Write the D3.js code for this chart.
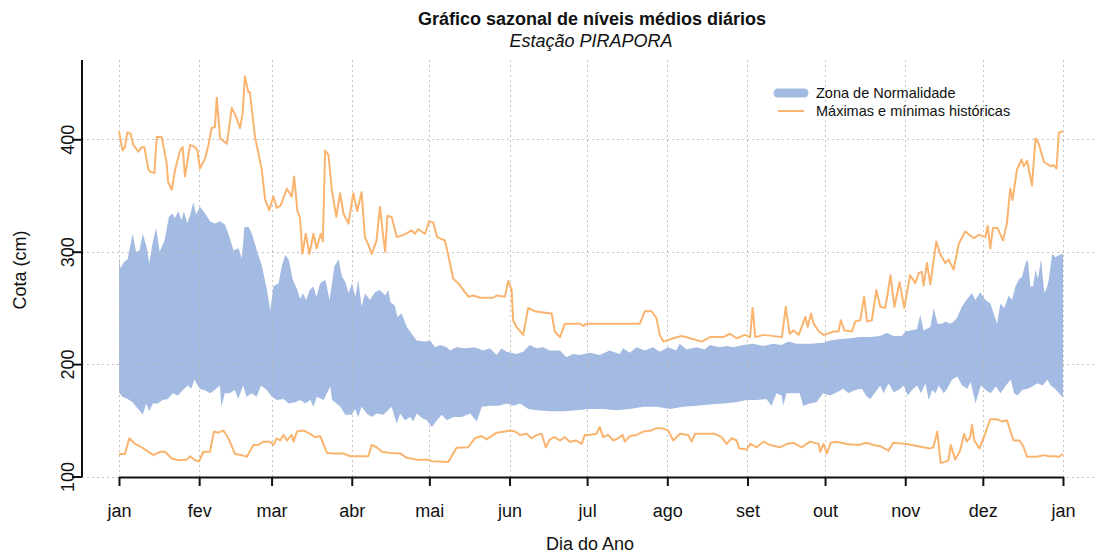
<!DOCTYPE html>
<html>
<head>
<meta charset="utf-8">
<script src="https://cdn.jsdelivr.net/npm/d3@7"></script>
<style>
  html, body { margin: 0; padding: 0; background: #fff; }
  svg { display: block; font-family: "Liberation Sans", Arial, sans-serif; }
</style>
</head>
<body>
<svg id="chart" width="1097" height="556"></svg>
<script>
// Month ticks (day of year) and labels
const monthDays = [1, 32, 60, 91, 121, 152, 182, 213, 244, 274, 305, 335, 366];
const monthLabels = ["jan", "fev", "mar", "abr", "mai", "jun", "jul", "ago", "set", "out", "nov", "dez", "jan"];
const yTicks = [100, 200, 300, 400];

// Historical maximum level [day, cm]
const maxHist = [
  [1,407],[2.4,390],[3.3,393],[4.2,406],[5.5,405],[6.5,395],[8.5,389],[9.8,393],[10.8,393],[12.3,374],[13,371],[14.7,370],
  [15.6,402],[17.5,402],[19.4,379],[20,362],[21.4,355],[22.7,373],[24.6,390],[25.6,393],[26.5,367],[28.5,395],[30.4,393],
  [31.3,390],[32.3,374],[34.3,383],[35.6,395],[36.8,410],[38.1,411],[38.8,437],[40.1,401],[42.7,396],[44.6,428],[46.3,420],
  [47.8,410],[48.8,423],[49.7,456],[51,442],[51.6,442],[53.6,402],[56.2,373],[57.5,346],[59.1,337],[60.7,349],[62,339],
  [63.5,341],[65.9,356],[67.8,349],[68.7,367],[70,336],[71,330],[71.9,298],[73.2,316],[74.6,298],[76.2,316],[77.4,303],
  [79,316],[79.8,309],[80.7,390],[82,386],[83.3,355],[85,331],[86.5,352],[87.8,334],[89.7,325],[91.6,352],[93.1,336],
  [94.8,353],[96.1,313],[97.4,306],[98.7,298],[100.6,310],[101.9,340],[103.2,313],[103.9,300],[104.8,332],[106.4,331],
  [108.4,313],[111,315],[114.2,319],[115.4,316],[116.7,320],[119.3,316],[120.9,327],[122.5,326],[124,313],[127,310],
  [128.3,297],[130.2,276],[132.2,272],[134.1,266],[136.1,260],[138,261],[140.6,259],[145.7,259],[147,261],[150.2,260],
  [151.5,274],[152.8,266],[153.4,239],[154.7,233],[157.3,226],[159.2,250],[161.8,247],[165,246],[168.3,245],[169.5,229],
  [171.5,224],[173.4,236],[176.6,236],[179.2,236],[180.5,234],[181.8,236],[202.4,236],[204.3,247],[206.9,247],[208.8,241],
  [210.1,226],[211.5,220],[215.3,223],[218.6,225],[221.8,223],[226.3,220],[229.5,224],[234.7,224],[237.2,227],[239.8,223],
  [243,226],[245,224],[246,250],[247,224],[250.2,226],[257.3,224],[258.8,251],[260.3,227],[261.8,230],[263.8,226],
  [266.4,242],[267.3,233],[268.6,245],[269.6,236],[271.6,229],[273.5,226],[277.3,229],[279.2,229],[280.1,239],[281.4,230],
  [284.4,229],[285.7,238],[287.6,239],[289.1,260],[290.2,238],[292.1,239],[293.8,266],[295.4,251],[297.3,250],[299.3,279],
  [300.8,251],[302.8,273],[304.6,250],[306.9,279],[308.9,272],[310.2,281],[311.4,282],[312.1,270],[313.4,290],[314.7,271],
  [317,309],[318.5,298],[320.5,290],[321.8,293],[323.7,284],[325.7,307],[328.2,318],[331.5,312],[333.4,315],[336,313],
  [336.9,323],[337.9,303],[338.9,321],[340.7,321],[342.8,310],[344.3,325],[345.6,356],[346.5,346],[348.2,373],[350,382],
  [350.8,376],[352.1,381],[354,359],[355.4,401],[356.6,396],[358.6,380],[361.2,376],[362.4,377],[363.5,374],[364.4,406],[366,407]
];

// Historical minimum level [day, cm]
const minHist = [
  [1,120],[3.3,120],[5,134],[7.3,129],[9.8,126],[11.7,123],[14.3,119],[16.9,122],[18.8,122],[21.4,116],[24,114.5],[27.2,115],
  [28.5,118],[30.4,114.5],[32,113.6],[33.6,122],[36.2,122],[37.7,140],[39.4,139],[41.4,141],[43.3,134],[45.9,120],[48.5,119],
  [50.4,117.5],[53,128],[54.9,128],[56.8,131],[59.4,131],[60.7,128],[62,134],[63.3,132],[64.6,137],[65.9,132],[67.8,137],
  [68.5,131],[69.8,140],[72.3,141],[74.9,138],[76.9,135],[78.8,136],[81.4,121],[84,120.5],[87.8,120.5],[90.4,118],[97.4,118],
  [98.7,128],[100.6,126],[102.6,122],[105.8,121],[109.7,120.5],[112.3,116.6],[116.1,115],[120.6,115],[121.9,113.6],[128.3,113],
  [131.5,125.5],[136,126],[138.6,134],[141.2,136],[143.1,133],[147,139],[150.2,140],[152.2,141],[154.1,140],[156,137],
  [158.6,138],[160.5,134],[162.5,137],[164.4,138],[166,126],[167.6,133],[169.5,135],[171.5,132],[173.4,135],[175.3,131],
  [177.9,132],[179.9,129],[181.1,137],[183,137],[185.6,138],[186.9,144],[188.2,135],[190.1,137],[192.1,132],[194,134],
  [195.7,137],[196.6,131],[198.6,136],[201.1,137],[203.7,140],[206.9,141],[208.8,143],[210.8,143],[213.3,141],[215.3,132],
  [217.9,138],[221.1,137],[222.4,131],[223.7,138],[231.4,138],[234,135],[235.9,129],[237.9,134],[239.8,132],[240.8,125],
  [243.7,124],[245,129],[247.6,126],[250.2,131],[252.8,128],[256.6,126],[259.2,129],[261.8,130],[265,126],[268.2,131],
  [271.5,129],[272.1,122],[273.4,129],[274.7,120.5],[276.2,130],[278.5,131],[282.4,129],[286.9,128],[290.1,130],[292.7,128],
  [295.3,127],[298.5,123],[300.4,130],[305.6,129],[312,126],[314.6,125],[315.9,126],[317.4,140],[318.7,112],[320.4,113],
  [321.7,114.5],[322.6,128],[324.3,115],[326.2,123],[327.8,138],[328.8,131],[330.1,135],[330.8,146],[331.7,132],[333.7,125],
  [335.9,138],[337.9,151],[340.4,151],[342.4,149],[344.3,150],[346.9,132],[349.2,132],[350.8,126],[352.1,117.5],[356,117.5],
  [358.6,119],[360.5,118],[362.4,118],[364.4,117.5],[366,120]
];

// Upper edge of the normality zone [day, cm]
const zoneUpper = [
  [1,295],[1.6,285],[3,291],[4.3,293],[6.3,316],[7.6,300],[8.9,301],[10.2,316],[11.7,304],[12.7,290],[14.1,309],[15.4,321],
  [16.7,300],[18.6,310],[20.3,331],[21.6,334],[22.6,330],[23.9,336],[25.2,328],[26.1,336],[27.4,325],[28.7,334],[29.7,344],
  [30.8,333],[32.3,340],[34.3,334],[36.2,327],[38.1,325],[40.1,327],[42,324],[43.3,316],[45.3,301],[47.2,303],[48.5,294],
  [49.5,322],[51.1,322],[52.4,316],[54.3,301],[56.3,287],[58.2,266],[59.5,248],[60.7,269],[62.7,272],[64,288],[65.3,297],
  [66.6,293],[68.2,275],[69.8,267],[71.1,258],[72.1,263],[73.4,257],[74.7,266],[76.2,269],[77.3,260],[78.8,272],[80.8,275],
  [82.4,257],[84.3,287],[85.9,293],[87.2,278],[88.5,273],[89.8,263],[91.1,272],[92.4,260],[93.5,275],[94.8,251],[96.1,263],
  [98,257],[100,264],[101.9,266],[103.9,261],[105.1,266],[106,255],[107.7,252],[108.6,242],[110.3,245],[112.3,233],[114.2,227],
  [116.1,221],[119.3,220],[121.3,221],[123.2,215],[125.2,217],[127.7,215],[129,212],[131.5,215],[134.8,214],[138.6,215],
  [141.8,212],[144.4,214],[147,208],[148.9,214],[150.8,211],[154.7,209],[157.3,211],[159.8,217],[162.4,214],[165,215],
  [167.6,212],[171.5,212],[174,206],[176.6,209],[179.2,208],[183,210],[186.9,208],[190.7,212],[194.6,209],[195.9,214],
  [198.5,210],[201.1,215],[204.3,212],[207.5,215],[210.1,211],[213.3,215],[216.5,212],[217.8,218],[220.4,213],[224.3,215],
  [227.5,213],[229.4,217],[233.3,215],[235.9,216],[238.5,215],[242.4,217],[246.2,218],[250.1,216],[254,218],[257.2,217],
  [259.8,220],[263,218],[268.2,218],[273.3,219],[276,221],[279.2,222],[283.7,223],[287.6,224],[291.5,224],[295.3,225],
  [297.9,228],[300.4,225],[303.7,225],[305,229],[306.9,230],[309.5,231],[310.8,244],[312.1,230],[314.7,233],[316,250],
  [317.5,236],[319.2,236],[320.5,238],[322.4,236],[323.7,238],[325,241],[326.9,251],[328.9,258],[330.8,263],[332.1,257],
  [334,264],[336,257],[337.9,254],[340.5,236],[341.8,254],[343.3,250],[345,261],[346.3,257],[347.6,269],[348.9,275],
  [350.2,278],[351.5,290],[352.4,293],[353.4,269],[354.4,269],[355.4,284],[356.3,276],[357.5,293],[358.8,263],[359.9,269],
  [360.5,275],[361.8,298],[363.1,295],[364.4,297],[366,298]
];

// Lower edge of the normality zone [day, cm]
const zoneLower = [
  [1,175],[2.3,171],[4.3,169],[6.3,166],[7.6,162],[9.2,158],[10.2,155],[11.5,165],[12.7,158],[14.1,165],[16,165],[17.9,168],
  [19.9,169],[21.8,174],[23.8,172],[25.7,177],[27.7,181],[28.9,178],[30.2,186],[32.2,178],[34.1,177],[36.1,174],[38,177],
  [40,181],[40.6,162],[41.9,174],[43.8,174],[45.8,177],[47.1,169],[49,181],[50.3,171],[52.3,174],[54.2,171],[55.9,181],
  [58.1,177],[60.1,171],[62,168],[64.6,169],[66.6,165],[69.1,166],[71.1,168],[73,165],[75,168],[76.2,162],[77.5,171],
  [80.1,168],[82.7,180],[83.4,168],[86.6,162],[88.5,155],[91,155],[92.3,160],[93.5,153],[94.8,162],[96.8,156],[98.7,153],
  [100.6,156],[103.2,155],[106.4,162],[108.4,147],[109.7,156],[111.6,150],[113.6,153],[114.8,149],[116.1,156],[118.1,152],
  [120,150],[122,144],[123.9,150],[125.8,155],[127.8,150],[130.3,153],[133.5,153],[136.8,156],[139.3,149],[141.3,162],
  [144.5,163],[147.7,163],[151,165],[153.5,163],[156.1,165],[159.3,160],[162.5,159],[167.7,158],[172.8,158],[178,159],
  [183,160],[188.2,160],[193.3,159],[198.5,160],[203.7,162],[208.8,162],[214,160],[219.1,162],[224.3,163],[229.4,164],
  [234.6,165],[239.7,166],[243.6,168],[247.5,168],[251.3,169],[253.3,163],[255.2,174],[257.2,172],[257.8,163],[259.1,174],
  [264.2,174],[265.5,163],[268.1,165],[270.7,166],[273.2,174],[276,172],[278.5,175],[281.1,178],[283,174],[285.6,177],
  [288.2,178],[290.2,171],[291.5,169],[293.4,175],[295.3,181],[296.6,174],[298.6,183],[300.5,175],[302.5,177],[304.4,181],
  [306,172],[307.6,177],[309.6,181],[311.1,174],[312.8,183],[314.1,168],[315.4,177],[316.7,174],[318,181],[319.9,174],
  [321.2,178],[323.1,186],[325.1,189],[327,181],[329,178],[330.3,184],[332.2,165],[334.2,181],[336.1,177],[338,174],
  [340,180],[341.9,174],[343.9,181],[345.8,186],[347.1,174],[348.4,172],[350.3,177],[352.3,178],[354.2,180],[356.1,183],
  [358.1,181],[360,186],[361.3,181],[362.9,178],[364.5,174],[366,170]
];

const svg = d3.select("#chart");
const plot = { left: 82, right: 1097, top: 60, bottom: 477 };

const x = d3.scaleLinear().domain([1, 366]).range([119, 1063]);
const y = d3.scaleLinear().domain([100, 400]).range([476.5, 139.3]);

const bandColor = "#a3bbe2";
const lineColor = "#f9b46f";
const gridColor = "#bdbdbd";
const axisFont = 18;

// Normality zone: upper edge forward, lower edge back
const zonePoly = zoneUpper.concat(zoneLower.slice().reverse());
svg.append("path")
  .attr("d", d3.line().x(d => x(d[0])).y(d => y(d[1]))(zonePoly) + "Z")
  .attr("fill", bandColor)
  .attr("stroke", "none");

// Dotted grid
const grid = svg.append("g").attr("stroke", gridColor).attr("stroke-width", 1)
  .attr("stroke-dasharray", "2,3").attr("opacity", 0.9);
grid.selectAll("line.v").data(monthDays).join("line")
  .attr("x1", d => Math.round(x(d)) + 0.5).attr("x2", d => Math.round(x(d)) + 0.5)
  .attr("y1", plot.top).attr("y2", plot.bottom);
grid.selectAll("line.h").data(yTicks).join("line")
  .attr("x1", plot.left).attr("x2", plot.right)
  .attr("y1", d => Math.round(y(d)) + 0.5).attr("y2", d => Math.round(y(d)) + 0.5);

// Historical max / min lines
const lineGen = d3.line().x(d => x(d[0])).y(d => y(d[1]));
[maxHist, minHist].forEach(series => {
  svg.append("path")
    .attr("d", lineGen(series))
    .attr("fill", "none")
    .attr("stroke", lineColor)
    .attr("stroke-width", 2)
    .attr("stroke-linejoin", "round");
});

// X axis
const xAxis = d3.axisBottom(x).tickValues(monthDays).tickFormat((d, i) => monthLabels[i])
  .tickSize(9).tickSizeOuter(0).tickPadding(18);
const gx = svg.append("g").attr("transform", `translate(0,${plot.bottom})`).call(xAxis);
gx.select(".domain").attr("stroke", "#111").attr("stroke-width", 2);
gx.selectAll(".tick line").attr("stroke", "#111").attr("stroke-width", 2);
gx.selectAll(".tick text").attr("font-size", axisFont).attr("fill", "#111")
  .attr("font-family", "Liberation Sans, Arial, sans-serif");

// Y axis
const yAxis = d3.axisLeft(y).tickValues(yTicks).tickSize(10).tickSizeOuter(0).tickPadding(6);
const gy = svg.append("g").attr("transform", `translate(${plot.left},0)`).call(yAxis);
gy.select(".domain").attr("d", `M0,${plot.top}V${plot.bottom}`).attr("stroke", "#111").attr("stroke-width", 2);
gy.selectAll(".tick line").attr("stroke", "#111").attr("stroke-width", 2);
gy.selectAll(".tick text")
  .attr("font-size", axisFont).attr("fill", "#111")
  .attr("font-family", "Liberation Sans, Arial, sans-serif")
  .attr("x", 0).attr("dy", 0)
  .attr("text-anchor", "middle")
  .attr("transform", "translate(-8,0) rotate(-90)");

// Titles
svg.append("text").attr("x", 592).attr("y", 25).attr("text-anchor", "middle")
  .attr("font-size", 18).attr("font-weight", "bold").attr("fill", "#111")
  .text("Gráfico sazonal de níveis médios diários");
svg.append("text").attr("x", 591).attr("y", 47).attr("text-anchor", "middle")
  .attr("font-size", 18).attr("font-style", "italic").attr("fill", "#111")
  .text("Estação PIRAPORA");

// Axis titles
svg.append("text").attr("x", 590).attr("y", 550).attr("text-anchor", "middle")
  .attr("font-size", axisFont).attr("fill", "#111").text("Dia do Ano");
svg.append("text").attr("transform", "translate(26,270) rotate(-90)").attr("text-anchor", "middle")
  .attr("font-size", axisFont).attr("fill", "#111").text("Cota (cm)");

// Legend
const legend = svg.append("g");
legend.append("line").attr("x1", 778).attr("x2", 804).attr("y1", 93).attr("y2", 93)
  .attr("stroke", bandColor).attr("stroke-width", 9).attr("stroke-linecap", "round");
legend.append("line").attr("x1", 778).attr("x2", 804).attr("y1", 111).attr("y2", 111)
  .attr("stroke", lineColor).attr("stroke-width", 2);
legend.append("text").attr("x", 816).attr("y", 98).attr("font-size", 14.5).attr("fill", "#111")
  .text("Zona de Normalidade");
legend.append("text").attr("x", 816).attr("y", 116).attr("font-size", 14.5).attr("fill", "#111")
  .text("Máximas e mínimas históricas");
</script>
</body>
</html>
